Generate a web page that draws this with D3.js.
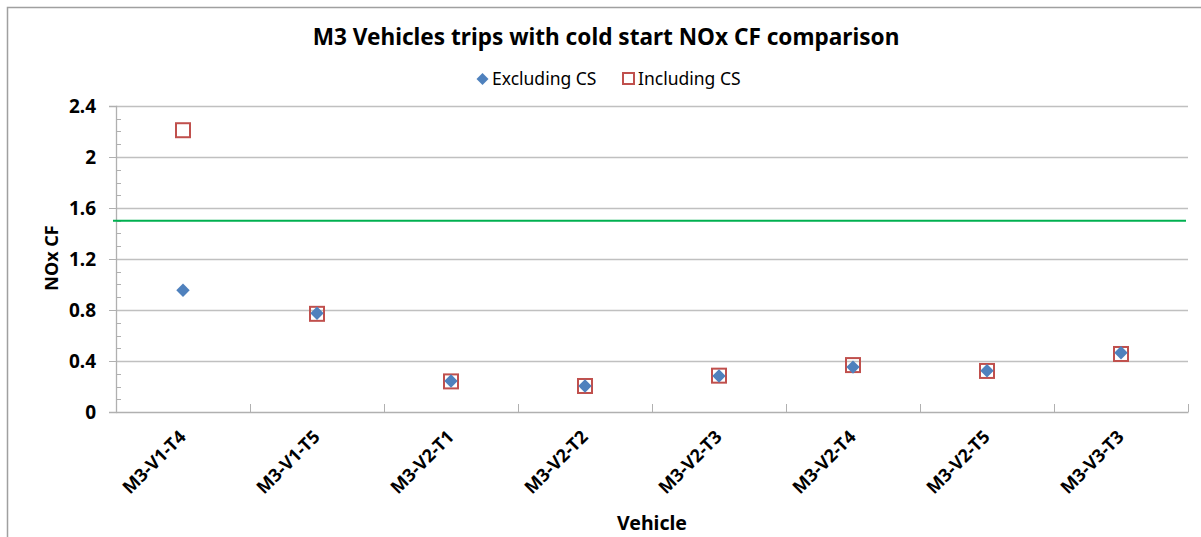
<!DOCTYPE html>
<html>
<head>
<meta charset="utf-8">
<script src="https://cdn.jsdelivr.net/npm/d3@7"></script>
<style>
  body { margin: 0; background: #fff; }
  text { font-family: "Noto Sans", "Open Sans", sans-serif; fill: #000; }
</style>
</head>
<body>
<div id="chart"></div>
<script>
// data
var vehicles = ["M3-V1-T4", "M3-V1-T5", "M3-V2-T1", "M3-V2-T2", "M3-V2-T3", "M3-V2-T4", "M3-V2-T5", "M3-V3-T3"];
var excludingCS = [0.955, 0.775, 0.243, 0.204, 0.282, 0.352, 0.324, 0.465];
var includingCS = [2.21, 0.77, 0.24, 0.204, 0.285, 0.368, 0.322, 0.455];
var limitCF = 1.5;
var yTicks = [0, 0.4, 0.8, 1.2, 1.6, 2, 2.4];

var W = 1201, H = 537;
var margin = {top: 106, right: 13, bottom: 125, left: 116},
    width = W - margin.left - margin.right,
    height = H - margin.top - margin.bottom;

var svg = d3.select("#chart")
  .append("svg")
    .attr("width", W)
    .attr("height", H);

// outer chart frame
svg.append("rect")
    .attr("x", 7.5).attr("y", 7.5)
    .attr("width", 1200).attr("height", 540)
    .attr("fill", "none")
    .attr("stroke", "#a0a0a0")
    .attr("stroke-width", 1.5);

var g = svg.append("g")
    .attr("transform", "translate(" + margin.left + "," + margin.top + ")");

var x = d3.scaleBand()
    .domain(vehicles)
    .range([0, width]);

var y = d3.scaleLinear()
    .domain([0, 2.4])
    .range([height, 0]);

// horizontal gridlines
g.selectAll(".grid")
  .data(yTicks.slice(1))
  .enter()
  .append("line")
    .attr("x1", 0).attr("x2", width)
    .attr("y1", function(d) { return Math.round(y(d)) + 0.5; })
    .attr("y2", function(d) { return Math.round(y(d)) + 0.5; })
    .attr("stroke", "#c0c0c0")
    .attr("stroke-width", 1.3);

// minor ticks on the y axis (inside)
var minor = d3.range(0, 24).map(function(i) { return i / 10; }).filter(function(d, i) { return i % 4 != 0; });
g.selectAll(".minor")
  .data(minor)
  .enter()
  .append("line")
    .attr("x1", 0).attr("x2", 5)
    .attr("y1", function(d) { return Math.round(y(d)) + 0.5; })
    .attr("y2", function(d) { return Math.round(y(d)) + 0.5; })
    .attr("stroke", "#b0b0b0");

// Y axis
var yAxis = g.append("g")
    .call(d3.axisLeft(y).tickValues(yTicks).tickSize(7).tickPadding(13)
      .tickFormat(function(d) { return d; }));
yAxis.select(".domain").attr("stroke", "#b0b0b0").attr("stroke-width", 1.3);
yAxis.selectAll(".tick line").attr("stroke", "#b0b0b0");
yAxis.selectAll(".tick text")
    .style("font-size", "19px")
    .style("font-weight", "bold")
    .style("font-family", "'Noto Sans', sans-serif")
    .attr("fill", "#000");

// X axis
var xAxis = g.append("g")
    .attr("transform", "translate(0," + height + ")")
    .call(d3.axisBottom(x).tickSize(0).tickPadding(0));
xAxis.select(".domain").attr("stroke", "#b0b0b0").attr("stroke-width", 1.3);
xAxis.selectAll(".tick text")
    .style("font-size", "18px")
    .style("font-weight", "bold")
    .style("font-family", "'Noto Sans', sans-serif")
    .attr("fill", "#000")
    .attr("text-anchor", "end")
    .attr("dy", 0)
    .attr("transform", "translate(4,26) rotate(-45)");

// category boundary ticks (pointing up)
g.selectAll(".xtick")
  .data(vehicles.concat([null]))
  .enter()
  .append("line")
    .attr("x1", function(d, i) { return Math.round(i * x.step()) + 0.5; })
    .attr("x2", function(d, i) { return Math.round(i * x.step()) + 0.5; })
    .attr("y1", height).attr("y2", height - 8)
    .attr("stroke", "#b0b0b0");

// limit line
g.append("line")
    .attr("x1", -3).attr("x2", width - 2)
    .attr("y1", y(limitCF)).attr("y2", y(limitCF))
    .attr("stroke", "#00b050")
    .attr("stroke-width", 2);

// Including CS squares
g.selectAll(".sq")
  .data(includingCS)
  .enter()
  .append("rect")
    .attr("x", function(d, i) { return x(vehicles[i]) + x.bandwidth() / 2 - 7; })
    .attr("y", function(d) { return y(d) - 7; })
    .attr("width", 14).attr("height", 14)
    .attr("fill", "none")
    .attr("stroke", "#c0504d")
    .attr("stroke-width", 2);

// Excluding CS diamonds
var diamond = d3.symbol().type(d3.symbolSquare).size(90);
g.selectAll(".dm")
  .data(excludingCS)
  .enter()
  .append("path")
    .attr("d", diamond)
    .attr("transform", function(d, i) {
      return "translate(" + (x(vehicles[i]) + x.bandwidth() / 2) + "," + y(d) + ") rotate(45)";
    })
    .attr("fill", "#4f81bd");

// Title
svg.append("text")
    .attr("x", 606).attr("y", 45)
    .attr("text-anchor", "middle")
    .style("font-size", "22.6px")
    .style("font-weight", "bold")
    .text("M3 Vehicles trips with cold start NOx CF comparison");

// Legend
var legend = svg.append("g");
legend.append("path")
    .attr("d", d3.symbol().type(d3.symbolSquare).size(72))
    .attr("transform", "translate(482.5,79) rotate(45)")
    .attr("fill", "#4f81bd");
legend.append("text")
    .attr("x", 492).attr("y", 85)
    .style("font-size", "17.5px")
    .text("Excluding CS");
legend.append("rect")
    .attr("x", 623).attr("y", 73)
    .attr("width", 11).attr("height", 11)
    .attr("fill", "none")
    .attr("stroke", "#c0504d")
    .attr("stroke-width", 2);
legend.append("text")
    .attr("x", 638).attr("y", 85)
    .style("font-size", "17.5px")
    .text("Including CS");

// Axis titles
svg.append("text")
    .attr("transform", "translate(58,258) rotate(-90)")
    .attr("text-anchor", "middle")
    .style("font-size", "18px")
    .style("font-weight", "bold")
    .text("NOx CF");

svg.append("text")
    .attr("x", 652).attr("y", 530)
    .attr("text-anchor", "middle")
    .style("font-size", "19.5px")
    .style("font-weight", "bold")
    .text("Vehicle");
</script>
</body>
</html>
